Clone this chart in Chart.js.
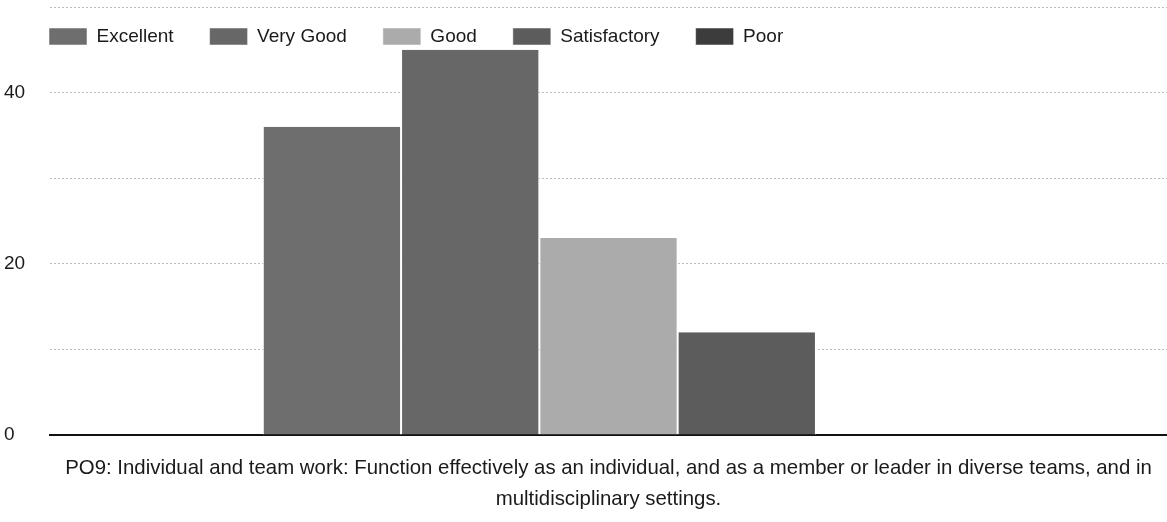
<!DOCTYPE html>
<html>
<head>
<meta charset="utf-8">
<script src="https://cdn.jsdelivr.net/npm/chart.js@4.4.1/dist/chart.umd.min.js"></script>
<style>
  html, body { margin: 0; padding: 0; background: #fff; }
  #wrap { width: 1167px; height: 522px; }
</style>
</head>
<body>
<div id="wrap"><canvas id="chart"></canvas></div>
<script>
/* data */
const categoryLabel = ["PO9: Individual and team work: Function effectively as an individual, and as a member or leader in diverse teams, and in", "multidisciplinary settings."];
const seriesNames = ["Excellent", "Very Good", "Good", "Satisfactory", "Poor"];
const seriesValues = [36, 45, 23, 12, 0];
const seriesColors = ["#6e6e6e", "#676767", "#ababab", "#5c5c5c", "#3c3c3c"];
const yTicksShown = [0, 20, 40];

const font = "'Liberation Sans', Arial, sans-serif";

const datasets = seriesNames.map((name, i) => ({
  label: name,
  data: [seriesValues[i]],
  backgroundColor: seriesColors[i],
  borderColor: "#ffffff",
  borderWidth: { left: 1, right: 1, top: 0, bottom: 0 },
  borderSkipped: false
}));

/* legend sits inside the plot, in one row, like the original */
const legendInPlot = {
  id: "legendInPlot",
  beforeUpdate(chart) {
    if (chart.legend) chart.legend.isHorizontal = () => true;
  },
  afterLayout(chart) {
    const lg = chart.legend;
    if (!lg) return;
    lg.left = 13;
    lg.right = lg.left + lg.width;
    lg.top = -9;
  }
};

new Chart(document.getElementById("chart"), {
  type: "bar",
  data: { labels: [categoryLabel], datasets: datasets },
  plugins: [legendInPlot],
  options: {
    responsive: true,
    maintainAspectRatio: false,
    animation: false,
    layout: { padding: { top: 7, right: 0, left: 4, bottom: 0 } },
    datasets: { bar: { categoryPercentage: 0.619, barPercentage: 1.0 } },
    plugins: {
      tooltip: { enabled: false },
      legend: {
        position: "chartArea",
        align: "start",
        labels: {
          boxWidth: 38,
          boxHeight: 17,
          padding: 36,
          color: "#1a1a1a",
          font: { family: font, size: 19 }
        }
      }
    },
    scales: {
      x: {
        afterFit: s => { s.height = 87; },
        grid: { display: false },
        border: { color: "#111", width: 2 },
        ticks: {
          color: "#1a1a1a",
          padding: 10,
          maxRotation: 0,
          font: { family: font, size: 20.4, lineHeight: 1.52 }
        }
      },
      y: {
        min: 0,
        max: 50,
        afterFit: s => { s.width = 46; s.paddingTop = 0; s.paddingBottom = 0; },
        border: { display: false, dash: [2, 2] },
        grid: { color: "#bdbdbd", drawTicks: false },
        ticks: {
          stepSize: 10,
          padding: 16,
          crossAlign: "far",
          color: "#1a1a1a",
          font: { family: font, size: 19 },
          callback: v => yTicksShown.includes(v) ? v : ""
        }
      }
    }
  }
});
</script>
</body>
</html>
